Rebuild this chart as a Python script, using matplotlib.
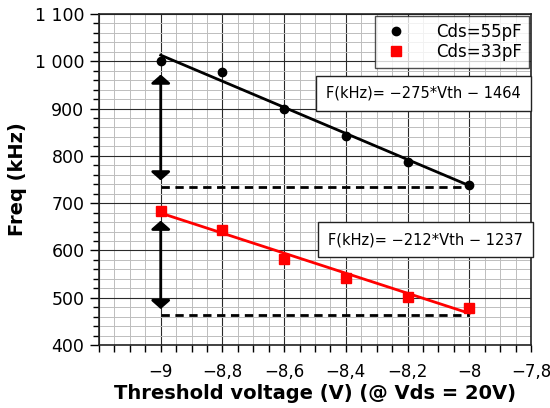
import numpy as np
import matplotlib.pyplot as plt
from matplotlib.ticker import MultipleLocator, FuncFormatter

# measured points
vth = [-9.0, -8.8, -8.6, -8.4, -8.2, -8.0]
freq_55 = [1000, 977, 900, 843, 788, 738]
freq_33 = [683, 643, 581, 542, 501, 479]

# fit lines (end points)
fit_x = [-9.0, -8.0]
fit_55 = [1013, 737]
fit_33 = [679, 467]

# reference levels and double arrows
level_55 = 734
level_33 = 463
arrow_55 = [972, 748]
arrow_33 = [663, 476]

label_55 = 'Cds=55pF'
label_33 = 'Cds=33pF'
eq_55 = 'F(kHz)= \u2212275*Vth \u2212 1464'
eq_33 = 'F(kHz)= \u2212212*Vth \u2212 1237'

fig = plt.figure(figsize=(5.5, 4.08), dpi=100)
ax = fig.add_axes([0.18, 0.1544, 0.7855, 0.8113])

ax.set_xlim(-9.2, -7.8)
ax.set_ylim(400, 1100)

ax.xaxis.set_major_locator(MultipleLocator(0.2))
ax.xaxis.set_minor_locator(MultipleLocator(0.05))
ax.yaxis.set_major_locator(MultipleLocator(100))
ax.yaxis.set_minor_locator(MultipleLocator(20))

def fmt_x(v, pos):
    if v < -9.1:
        return ''
    s = ('%.1f' % v).rstrip('0').rstrip('.')
    return s.replace('-', '\u2212').replace('.', ',')

def fmt_y(v, pos):
    v = int(round(v))
    if v >= 1000:
        return '%d %03d' % (v // 1000, v % 1000)
    return str(v)

ax.xaxis.set_major_formatter(FuncFormatter(fmt_x))
ax.yaxis.set_major_formatter(FuncFormatter(fmt_y))

ax.grid(which='minor', color='#bdbdbd', lw=0.7)
ax.grid(which='major', color='#2a2a2a', lw=0.8)
ax.set_axisbelow(True)

ax.tick_params(axis='x', which='major', direction='out', length=5, width=1, pad=8, labelsize=12)
ax.tick_params(axis='x', which='minor', direction='out', length=5, width=1)
ax.tick_params(axis='y', which='major', direction='out', length=6.5, width=1, pad=4, labelsize=12.5)
ax.tick_params(axis='y', which='minor', direction='out', length=4.3, width=1)
for sp in ax.spines.values():
    sp.set_color('#222222')
    sp.set_linewidth(1.2)

# fit lines
ax.plot(fit_x, fit_55, color='black', lw=2)
ax.plot(fit_x, fit_33, color='red', lw=2)

# data points
ax.plot(vth, freq_55, 'o', color='black', ms=6, label=label_55)
ax.plot(vth, freq_33, 's', color='red', ms=6.5, label=label_33)

# dashed reference levels
ax.plot(fit_x, [level_55, level_55], color='black', lw=2, ls=(0, (3, 2)))
ax.plot(fit_x, [level_33, level_33], color='black', lw=2, ls=(0, (3, 2)))

# double arrows
for a in (arrow_55, arrow_33):
    ax.annotate('', xy=(fit_x[0], a[1]), xytext=(fit_x[0], a[0]),
                arrowprops=dict(arrowstyle='<|-|>,head_width=0.32,head_length=0.28',
                                color='black', lw=2, mutation_scale=18,
                                shrinkA=0, shrinkB=0))

leg = ax.legend(loc='upper right', fontsize=12, frameon=True, fancybox=False,
                borderaxespad=0.1, handletextpad=1.6, borderpad=0.45,
                labelspacing=0.1, handlelength=1.6)
leg.get_frame().set_edgecolor('#222222')
leg.get_frame().set_linewidth(1)

box = dict(boxstyle='square,pad=0.7', fc='white', ec='#222222', lw=1)
ax.text(0.976, 0.760, eq_55, transform=ax.transAxes, ha='right', va='center',
        fontsize=10.5, bbox=box)
ax.text(0.981, 0.3187, eq_33, transform=ax.transAxes, ha='right', va='center',
        fontsize=10.5, bbox=box, clip_on=False)

ax.set_xlabel('Threshold voltage (V) (@ Vds = 20V)', fontsize=14, fontweight='bold', labelpad=2)
ax.set_ylabel('Freq (kHz)', fontsize=14, fontweight='bold', labelpad=6)

fig.savefig('out.png', dpi=100)
